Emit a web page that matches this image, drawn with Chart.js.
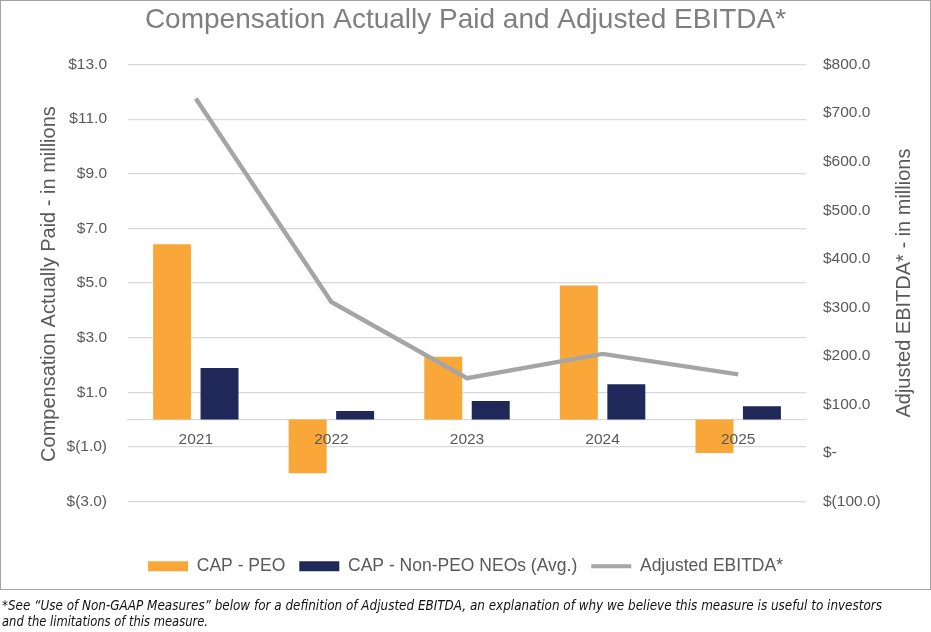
<!DOCTYPE html>
<html>
<head>
<meta charset="utf-8">
<script src="https://cdn.jsdelivr.net/npm/chart.js@4.4.1/dist/chart.umd.min.js"></script>
<style>
  html, body { margin: 0; padding: 0; background: #fff; }
  body { width: 931px; height: 632px; position: relative; overflow: hidden; }
  #wrap { position: absolute; left: 0; top: 0; width: 931px; height: 590px; }
  #frame { position: absolute; left: 0; top: 0; width: 931px; height: 590px; box-sizing: border-box;
           border: 1.5px solid #a3a3a3; pointer-events: none; }
  #note { position: absolute; left: 2px; top: 597px; font-family: 'Liberation Sans Narrow', 'DejaVu Sans Condensed', 'Liberation Sans', Arial, sans-serif;
          font-style: italic; font-size: 14.5px; line-height: 16px; color: #111; white-space: nowrap; }
  #note span { display: inline-block; transform-origin: 0 0; }
</style>
</head>
<body>
<div id="wrap"><canvas id="c" width="931" height="590" style="width:931px;height:590px"></canvas></div>
<div id="frame"></div>
<div id="note"><span id="l1">*See “Use of Non-GAAP Measures” below for a definition of Adjusted EBITDA, an explanation of why we believe this measure is useful to investors</span><br><span id="l2">and the limitations of this measure.</span></div>
<script>
const categories = ['2021', '2022', '2023', '2024', '2025'];
const capPeo = [6.42, -1.97, 2.30, 4.91, -1.22];
const capNonPeo = [1.89, 0.31, 0.68, 1.29, 0.49];
const adjEbitda = [730, 311, 154, 204, 162];
const leftTickLabels = ['$(3.0)', '$(1.0)', '$1.0', '$3.0', '$5.0', '$7.0', '$9.0', '$11.0', '$13.0'];
const rightTickLabels = ['$(100.0)', '$-', '$100.0', '$200.0', '$300.0', '$400.0', '$500.0', '$600.0', '$700.0', '$800.0'];
const seriesNames = ['CAP - PEO', 'CAP - Non-PEO NEOs (Avg.)', 'Adjusted EBITDA*'];
const chartTitle = 'Compensation Actually Paid and Adjusted EBITDA*';
const leftAxisTitle = 'Compensation Actually Paid - in millions';
const rightAxisTitle = 'Adjusted EBITDA* - in millions';

const FONT = "'Liberation Sans', Arial, Helvetica, sans-serif";
const TICK = '#595959';

const axisTitlePlugin = {
  id: 'axisTitles',
  afterDraw(chart) {
    const ctx = chart.ctx;
    const cy = (chart.chartArea.top + chart.chartArea.bottom) / 2;
    ctx.save();
    ctx.font = '20px ' + FONT;
    ctx.fillStyle = TICK;
    ctx.textAlign = 'center';
    ctx.textBaseline = 'middle';
    ctx.save();
    ctx.translate(chart.scales.y.left + 49, cy + 1);
    ctx.rotate(-Math.PI / 2);
    ctx.fillText(leftAxisTitle, 0, 0);
    ctx.restore();
    ctx.save();
    ctx.translate(chart.scales.y1.right - 27, cy);
    ctx.rotate(-Math.PI / 2);
    ctx.fillText(rightAxisTitle, 0, 0);
    ctx.restore();
    ctx.restore();
  }
};

new Chart(document.getElementById('c'), {
  data: {
    labels: categories,
    datasets: [
      { type: 'bar', label: seriesNames[0], data: capPeo, backgroundColor: '#F8A738', yAxisID: 'y', order: 1,
        categoryPercentage: 0.7, barPercentage: 0.8 },
      { type: 'bar', label: seriesNames[1], data: capNonPeo, backgroundColor: '#1F2859', yAxisID: 'y', order: 1,
        categoryPercentage: 0.7, barPercentage: 0.8 },
      { type: 'line', label: seriesNames[2], data: adjEbitda, borderColor: '#A5A5A5', backgroundColor: '#A5A5A5',
        borderWidth: 4.4, pointRadius: 0, pointHoverRadius: 0, tension: 0, yAxisID: 'y1', order: 0 }
    ]
  },
  options: {
    responsive: false,
    animation: false,
    devicePixelRatio: 1,
    layout: { padding: { left: 0, right: 0, top: 0, bottom: 5 } },
    plugins: {
      title: { display: true, text: chartTitle, color: '#7f7f7f',
               font: { family: FONT, size: 28, weight: 'normal' }, padding: { top: 3, bottom: 28 } },
      tooltip: { enabled: false },
      legend: {
        position: 'bottom',
        title: { display: true, text: '', font: { size: 10 }, padding: { top: 30, bottom: 0 } },
        labels: {
          usePointStyle: true, pointStyleWidth: 40, boxHeight: 10, padding: 14,
          color: TICK, font: { family: FONT, size: 17.5 },
          generateLabels(chart) {
            const items = Chart.defaults.plugins.legend.labels.generateLabels(chart);
            items.forEach(it => {
              const ds = chart.data.datasets[it.datasetIndex];
              if (ds.type === 'line') { it.pointStyle = 'line'; it.lineWidth = 4; it.strokeStyle = ds.borderColor; }
              else { it.pointStyle = 'rect'; it.lineWidth = 0; }
            });
            return items.sort((a, b) => a.datasetIndex - b.datasetIndex);
          }
        }
      }
    },
    scales: {
      x: {
        type: 'category',
        position: { y: 0 },
        offset: true,
        grid: { display: false, drawTicks: false },
        border: { display: true, color: '#d9d9d9', width: 1.2 },
        ticks: { z: 1, color: TICK, font: { family: FONT, size: 15.5 }, padding: 11, maxRotation: 0 }
      },
      y: {
        type: 'linear', position: 'left', min: -3, max: 13,
        afterFit(s) { s.width = 128; },
        grid: { color: '#d9d9d9', lineWidth: 1.2, drawTicks: false },
        border: { display: false },
        ticks: { stepSize: 2, color: TICK, font: { family: FONT, size: 15.5 }, padding: 21,
                 callback: (v, i) => leftTickLabels[i] }
      },
      y1: {
        type: 'linear', position: 'right', min: -100, max: 800,
        afterFit(s) { s.width = 125; },
        grid: { display: false, drawTicks: false },
        border: { display: false },
        ticks: { stepSize: 100, color: TICK, font: { family: FONT, size: 15.5 }, padding: 17,
                 callback: (v, i) => rightTickLabels[i] }
      }
    }
  },
  plugins: [axisTitlePlugin]
});

// fit footnote lines to the reference widths
function fit(id, w) {
  const el = document.getElementById(id);
  const ow = el.getBoundingClientRect().width;
  if (ow > 0) el.style.transform = 'scaleX(' + (w / ow) + ')';
}
fit('l1', 880);
fit('l2', 206);
</script>
</body>
</html>
